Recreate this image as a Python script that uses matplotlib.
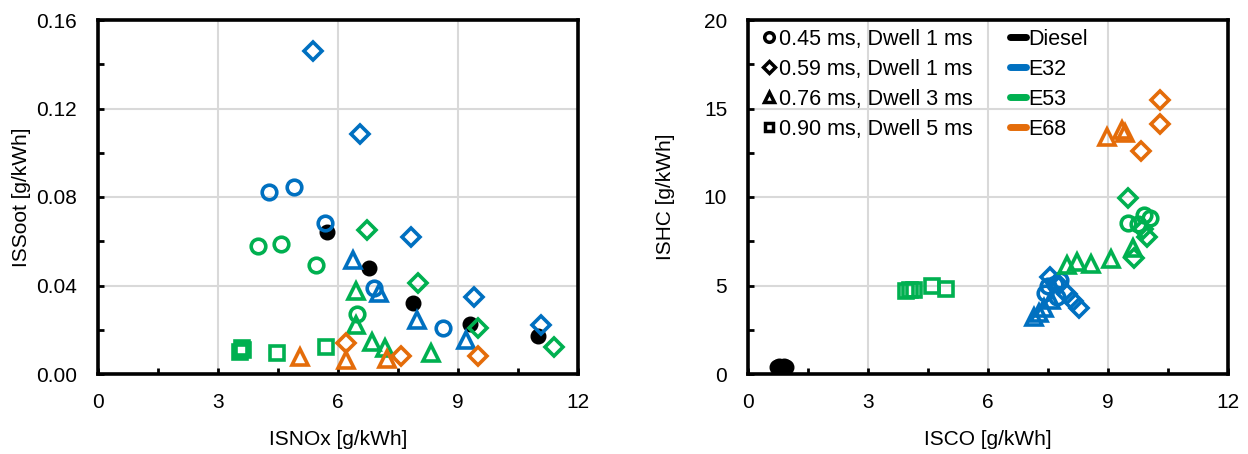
import matplotlib.pyplot as plt
from matplotlib.lines import Line2D
from matplotlib.ticker import MultipleLocator

plt.rcParams['font.family'] = ['Liberation Sans', 'DejaVu Sans']
plt.rcParams['font.size'] = 15

# Colours per fuel
fuels = ['Diesel', 'E32', 'E53', 'E68']
fuel_colors = ['black', '#0070C0', '#00B050', '#E46C0A']

# Injection strategies (legend labels)
strategies = ['0.45 ms, Dwell 1 ms', '0.59 ms, Dwell 1 ms',
              '0.76 ms, Dwell 3 ms', '0.90 ms, Dwell 5 ms']
strategy_markers = ['o', 'D', '^', 's']

# Diesel (filled dots)
diesel_nox = [5.72, 6.78, 7.88, 9.30, 10.99]
diesel_soot = [0.0643, 0.0480, 0.0322, 0.0225, 0.0173]
diesel_co = [0.72, 0.78, 0.85, 0.90, 0.96]
diesel_hc = [0.42, 0.45, 0.40, 0.44, 0.42]

# E32
e32_circ_nox = [4.28, 4.90, 5.68, 6.91, 8.62]
e32_circ_soot = [0.0824, 0.0847, 0.0684, 0.0390, 0.0209]
e32_circ_co = [7.50, 7.68, 7.72, 7.43, 7.80]
e32_circ_hc = [5.00, 5.10, 4.37, 4.56, 5.30]
e32_diam_nox = [5.375, 6.55, 7.83, 9.40, 11.08]
e32_diam_soot = [0.1460, 0.1085, 0.0618, 0.0350, 0.0221]
e32_diam_co = [8.28, 8.12, 7.97, 7.55, 7.75]
e32_diam_hc = [3.75, 4.15, 4.50, 5.50, 5.10]
e32_tri_nox = [6.38, 7.03, 7.97, 9.19]
e32_tri_soot = [0.0515, 0.0365, 0.0244, 0.0154]
e32_tri_co = [7.15, 7.27, 7.40, 7.57]
e32_tri_hc = [3.20, 3.45, 3.75, 4.20]

# E53
e53_circ_nox = [4.01, 4.57, 5.45, 6.47]
e53_circ_soot = [0.0580, 0.0586, 0.0493, 0.0271]
e53_circ_co = [9.50, 9.75, 9.90, 10.05]
e53_circ_hc = [8.55, 8.45, 9.00, 8.80]
e53_diam_nox = [6.72, 8.01, 9.51, 11.41]
e53_diam_soot = [0.0651, 0.0413, 0.0209, 0.0123]
e53_diam_co = [9.50, 9.88, 9.97, 9.65]
e53_diam_hc = [9.92, 8.20, 7.75, 6.55]
e53_tri_nox = [6.44, 6.44, 6.86, 7.18, 8.33]
e53_tri_soot = [0.0377, 0.0221, 0.0146, 0.0118, 0.0096]
e53_tri_co = [7.97, 8.23, 8.57, 9.08, 9.63]
e53_tri_hc = [6.16, 6.35, 6.20, 6.48, 7.10]
e53_sq_nox = [3.55, 3.60, 3.62, 4.48, 5.69]
e53_sq_soot = [0.0100, 0.0118, 0.0108, 0.0096, 0.0123]
e53_sq_co = [3.95, 4.05, 4.15, 4.60, 4.95]
e53_sq_hc = [4.70, 4.72, 4.75, 4.95, 4.80]

# E68
e68_tri_nox = [5.05, 6.19, 7.22]
e68_tri_soot = [0.0078, 0.0063, 0.0066]
e68_tri_co = [8.98, 9.34, 9.43]
e68_tri_hc = [13.37, 13.80, 13.60]
e68_diam_nox = [6.19, 7.58, 9.49]
e68_diam_soot = [0.0141, 0.0081, 0.0081]
e68_diam_co = [10.30, 10.30, 9.82]
e68_diam_hc = [15.48, 14.12, 12.60]

sizes = {'o': 10.5, 'D': 8.8, '^': 11, 's': 9.5}


def hollow(ax, x, y, marker, color):
    ax.plot(x, y, ls='none', marker=marker, ms=sizes[marker], mfc='none',
            mec=color, mew=2.6, zorder=3)


def style_axes(ax, ymax, ymajor, yminor):
    ax.set_xlim(0, 12)
    ax.set_ylim(0, ymax)
    ax.xaxis.set_major_locator(MultipleLocator(3))
    ax.xaxis.set_minor_locator(MultipleLocator(1.5))
    ax.yaxis.set_major_locator(MultipleLocator(ymajor))
    ax.yaxis.set_minor_locator(MultipleLocator(yminor))
    ax.grid(True, which='major', color='#D9D9D9', linewidth=1.5, zorder=0)
    ax.set_axisbelow(True)
    for s in ax.spines.values():
        s.set_linewidth(2.6)
        s.set_color('black')
    ax.tick_params(which='both', direction='in', width=2, length=4, labelsize=15)
    ax.tick_params(axis='x', which='both', pad=13.5)
    ax.tick_params(axis='y', which='both', pad=15)


fig = plt.figure(figsize=(12.48, 4.54), dpi=100)
ax1 = fig.add_axes([98 / 1248, 80 / 454, 480 / 1248, 354 / 454])
ax2 = fig.add_axes([748 / 1248, 80 / 454, 480 / 1248, 354 / 454])

# left: ISNOx vs ISSoot
ax1.plot(diesel_nox, diesel_soot, ls='none', marker='o', ms=10.5, color='black', zorder=2)
hollow(ax1, e32_circ_nox, e32_circ_soot, 'o', fuel_colors[1])
hollow(ax1, e32_diam_nox, e32_diam_soot, 'D', fuel_colors[1])
hollow(ax1, e32_tri_nox, e32_tri_soot, '^', fuel_colors[1])
hollow(ax1, e53_circ_nox, e53_circ_soot, 'o', fuel_colors[2])
hollow(ax1, e53_diam_nox, e53_diam_soot, 'D', fuel_colors[2])
hollow(ax1, e53_tri_nox, e53_tri_soot, '^', fuel_colors[2])
hollow(ax1, e53_sq_nox, e53_sq_soot, 's', fuel_colors[2])
hollow(ax1, e68_tri_nox, e68_tri_soot, '^', fuel_colors[3])
hollow(ax1, e68_diam_nox, e68_diam_soot, 'D', fuel_colors[3])
style_axes(ax1, 0.16, 0.04, 0.02)
ax1.yaxis.set_major_formatter(lambda v, p: f'{v:.2f}')
ax1.set_xlabel('ISNOx [g/kWh]', fontsize=15, labelpad=13)
ax1.set_ylabel('ISSoot [g/kWh]', fontsize=15, labelpad=4)

# right: ISCO vs ISHC
ax2.plot(diesel_co, diesel_hc, ls='none', marker='o', ms=10.5, color='black', zorder=2)
hollow(ax2, e32_circ_co, e32_circ_hc, 'o', fuel_colors[1])
hollow(ax2, e32_diam_co, e32_diam_hc, 'D', fuel_colors[1])
hollow(ax2, e32_tri_co, e32_tri_hc, '^', fuel_colors[1])
hollow(ax2, e53_circ_co, e53_circ_hc, 'o', fuel_colors[2])
hollow(ax2, e53_diam_co, e53_diam_hc, 'D', fuel_colors[2])
hollow(ax2, e53_tri_co, e53_tri_hc, '^', fuel_colors[2])
hollow(ax2, e53_sq_co, e53_sq_hc, 's', fuel_colors[2])
hollow(ax2, e68_tri_co, e68_tri_hc, '^', fuel_colors[3])
hollow(ax2, e68_diam_co, e68_diam_hc, 'D', fuel_colors[3])
style_axes(ax2, 20, 5, 2.5)
ax2.set_xlabel('ISCO [g/kWh]', fontsize=15, labelpad=13)
ax2.set_ylabel('ISHC [g/kWh]', fontsize=15, labelpad=21)

# legend: strategies (black markers) + fuels (coloured lines)
handles = []
labels = []
for m, s in zip(strategy_markers, strategies):
    handles.append(Line2D([], [], ls='none', marker=m, ms=sizes[m] * 0.66,
                          mfc='white', mec='black', mew=2.5))
    labels.append(s)
for f, c in zip(fuels, fuel_colors):
    handles.append(Line2D([], [], color=c, lw=5, solid_capstyle='round'))
    labels.append(f)
ax2.legend(handles, labels, ncol=2, loc='upper left', frameon=False,
           fontsize=15.5, handlelength=0.75, handletextpad=0.12,
           columnspacing=1.7, labelspacing=0.42, borderaxespad=0.0,
           bbox_to_anchor=(0.008, 1.0))

fig.savefig('out.png', dpi=100)
